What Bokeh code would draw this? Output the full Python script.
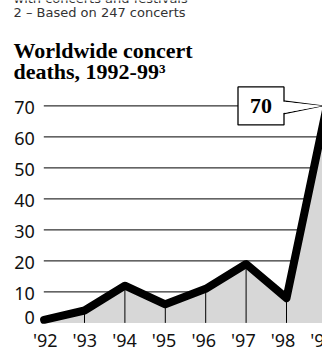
from bokeh.plotting import figure
from bokeh.models import Label, Range1d
from bokeh.core.properties import value
from bokeh.embed import file_html
from bokeh.resources import INLINE

# ---- data ----
years = [1992, 1993, 1994, 1995, 1996, 1997, 1998, 1999]
deaths = [1, 4, 12, 6, 11, 19, 8, 70]
year_labels = ["'92", "'93", "'94", "'95", "'96", "'97", "'98", "'99"]
y_ticks = [0, 10, 20, 30, 40, 50, 60, 70]
y_tick_labels = ["0", "10", "20", "30", "40", "50", "60", "70"]
note_lines = ["with concerts and festivals", "2 – Based on 247 concerts"]
title_lines = ["Worldwide concert", "deaths, 1992-99³"]

# ---- layout constants (pixels) ----
W, H = 322, 354
PX_YEAR = 40.4   # pixels per year
X0_PX = 43.6     # canvas x of first year
PX_UNIT = 3.1    # pixels per death
ZERO_PX = 322.4  # canvas y of zero

x_start = years[0] - X0_PX / PX_YEAR
x_end = x_start + W / PX_YEAR
y_start = -(H - ZERO_PX) / PX_UNIT
y_end = ZERO_PX / PX_UNIT


def xd(px):
    return x_start + px / PX_YEAR


p = figure(width=W, height=H, output_backend="svg", toolbar_location=None, title=None,
           x_range=Range1d(x_start, x_end), y_range=Range1d(y_start, y_end),
           x_axis_location=None, y_axis_location=None,
           min_border=0, min_border_left=0, min_border_right=0,
           min_border_top=0, min_border_bottom=0)
p.outline_line_color = None
p.background_fill_color = "white"
p.border_fill_color = "white"
p.xgrid.visible = False
p.ygrid.visible = False

SANS = "Noto Sans"
SERIF = "Liberation Serif"
NOTE = "DejaVu Sans"

# horizontal grid lines starting at the first year
grid_vals = y_ticks[1:]
p.segment(x0=[xd(43.3)] * len(grid_vals), y0=grid_vals,
          x1=[x_end] * len(grid_vals), y1=grid_vals,
          line_color="black", line_width=1)

# area, drop lines, line
zeros = [0] * len(years)
p.varea(x=years, y1=zeros, y2=deaths, fill_color="#d7d7d7")
p.segment(x0=years, y0=zeros, x1=years, y1=deaths, line_color="black", line_width=1)
p.line(years, deaths, line_color="black", line_width=8,
       line_join="round", line_cap="round")

# tick labels
lab_x = xd(34.3)
p.text(x=[lab_x] * (len(y_ticks) - 1), y=y_ticks[1:], text=y_tick_labels[1:],
       text_align="right", text_baseline="middle", y_offset=2,
       text_font=value(SANS), text_font_size="18px", text_color="#111111")
p.text(x=[lab_x], y=y_ticks[:1], text=y_tick_labels[:1],
       text_align="right", text_baseline="middle", y_offset=-5,
       text_font=value(SANS), text_font_size="18px", text_color="#111111")
label_shift = [1.1 - 0.77 * i for i in range(len(years))]
p.text(x=years, y=zeros, text=year_labels, text_align="center",
       text_baseline="middle", y_offset=17.4, x_offset=label_shift,
       text_font=value(SANS), text_font_size="18px", text_color="#111111")

# callout for the peak
peak = max(deaths)
tip_x = x_end
bx0 = tip_x - (W - 237.5) / PX_YEAR
bx1 = tip_x - (W - 283.5) / PX_YEAR
half_h = 19 / PX_UNIT
p.patch([bx1 - 0.02, tip_x, bx1 - 0.02], [peak + 5 / PX_UNIT, peak, peak - 8 / PX_UNIT],
        fill_color="white", line_color="black", line_width=1.2)
p.quad(left=bx0, right=bx1, bottom=peak - half_h, top=peak + half_h,
       fill_color="white", line_color="black", line_width=1.3)
p.patch([bx1 - 0.05, tip_x, bx1 - 0.05], [peak + 4.3 / PX_UNIT, peak, peak - 7.3 / PX_UNIT],
        fill_color="white", line_color=None)
p.text(x=[(bx0 + bx1) / 2], y=[peak], text=[str(peak)], text_align="center",
       text_baseline="middle", text_font=value(SERIF), text_font_style="bold",
       text_font_size="22px", text_color="black")

# header texts (screen units, from the bottom-left of the canvas)
note_base = [-2, 11.7]
for txt, b in zip(note_lines, note_base):
    p.add_layout(Label(x=13, y=H - b, x_units="screen", y_units="screen",
                       text=txt, text_font=NOTE, text_font_size="13px",
                       text_color="#333333", text_baseline="alphabetic"))
title_base = [49.7, 70.7]
for txt, b in zip(title_lines, title_base):
    p.add_layout(Label(x=13, y=H - b, x_units="screen", y_units="screen",
                       text=txt, text_font=SERIF, text_font_style="bold",
                       text_font_size="22px", text_color="black",
                       text_baseline="alphabetic"))

open("out.html", "w").write(file_html(p, INLINE))
